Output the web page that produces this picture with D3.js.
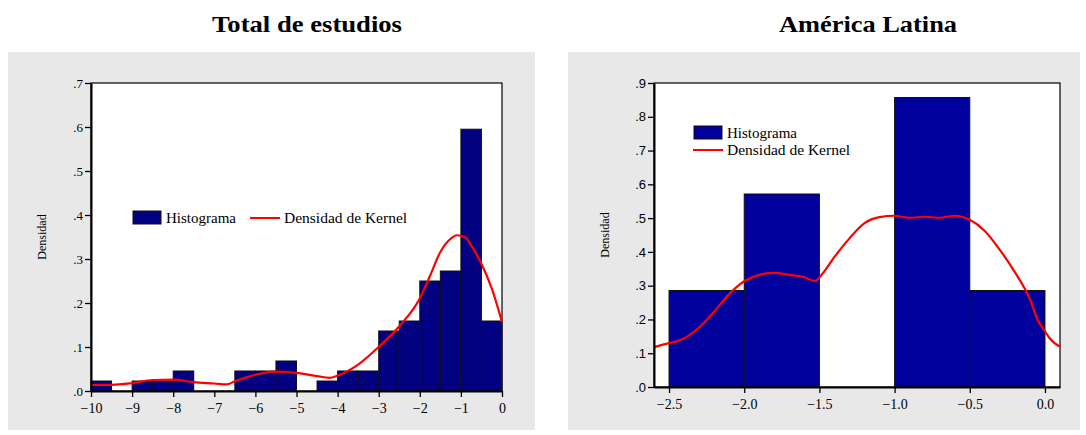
<!DOCTYPE html>
<html>
<head>
<meta charset="utf-8">
<script src="https://cdn.jsdelivr.net/npm/d3@7"></script>
<style>
  body { margin: 0; background: #fff; }
  svg text { font-family: "Liberation Serif", "Times New Roman", serif; fill: #000; }
</style>
</head>
<body>
<div id="chart"></div>
<script>
// Total de estudios: bin starts (width .5) and density
var totalBins = [-10, -9.5, -9, -8.5, -8, -7.5, -7, -6.5, -6, -5.5, -5, -4.5, -4, -3.5, -3, -2.5, -2, -1.5, -1, -0.5];
var totalHist = [0.0227, 0, 0.0227, 0.0227, 0.0455, 0, 0, 0.0455, 0.0455, 0.0682, 0, 0.0227, 0.0455, 0.0455, 0.1364, 0.1591, 0.25, 0.2727, 0.595, 0.1591];
var totalKx = [-10, -9.5, -9, -8.5, -8, -7.5, -7, -6.7, -6.5, -6, -5.5, -5, -4.5, -4.2, -4, -3.5, -3, -2.5, -2, -1.75, -1.5, -1.25, -1.1, -0.9, -0.75, -0.5, -0.25, 0];
var totalKy = [0.014, 0.014, 0.018, 0.025, 0.026, 0.020, 0.017, 0.015, 0.022, 0.037, 0.044, 0.041, 0.034, 0.030, 0.035, 0.060, 0.100, 0.147, 0.210, 0.262, 0.316, 0.346, 0.354, 0.350, 0.331, 0.289, 0.233, 0.157];
var totalXTicks = [-10, -9, -8, -7, -6, -5, -4, -3, -2, -1, 0];
var totalYTicks = [0, 0.1, 0.2, 0.3, 0.4, 0.5, 0.6, 0.7];

// America Latina
var latBins = [-2.5, -2, -1.5, -1, -0.5];
var latHist = [0.2857, 0.5714, 0, 0.8571, 0.2857];
var latKx = [-2.6, -2.5, -2.45, -2.4, -2.3, -2.2, -2.1, -2.0, -1.9, -1.8, -1.7, -1.6, -1.53, -1.48, -1.4, -1.3, -1.2, -1.1, -1.0, -0.9, -0.8, -0.7, -0.6, -0.5, -0.4, -0.3, -0.2, -0.1, -0.05, 0.0, 0.03, 0.1];
var latKy = [0.118, 0.130, 0.135, 0.144, 0.176, 0.223, 0.275, 0.313, 0.332, 0.338, 0.332, 0.325, 0.314, 0.335, 0.385, 0.440, 0.485, 0.503, 0.507, 0.501, 0.504, 0.501, 0.507, 0.495, 0.462, 0.406, 0.340, 0.260, 0.200, 0.165, 0.145, 0.119];
var latXTicks = [-2.5, -2.0, -1.5, -1.0, -0.5, 0.0];
var latYTicks = [0, 0.1, 0.2, 0.3, 0.4, 0.5, 0.6, 0.7, 0.8, 0.9];

var svg = d3.select('#chart').append('svg')
  .attr('width', 1086)
  .attr('height', 435);

function yFmt(d) { return d3.format('.1f')(d).replace(/^0/, ''); }

function panel(opt) {
  svg.append('rect')
    .attr('x', opt.box[0]).attr('y', opt.box[1])
    .attr('width', opt.box[2]).attr('height', opt.box[3])
    .attr('fill', '#e8e8e8');

  // titles look stretched in the original, so force their width
  svg.append('text')
    .attr('x', opt.titleX).attr('y', 32)
    .attr('text-anchor', 'middle')
    .attr('textLength', opt.titleW).attr('lengthAdjust', 'spacingAndGlyphs')
    .style('font-size', '23px').style('font-weight', 'bold')
    .text(opt.title);

  var x = d3.scaleLinear().domain(opt.xdom).range([opt.left, opt.right]);
  var y = d3.scaleLinear().domain(opt.ydom).range([opt.bottom, opt.top]);

  svg.append('rect')
    .attr('x', opt.left).attr('y', opt.top)
    .attr('width', opt.right - opt.left).attr('height', opt.bottom - opt.top)
    .attr('fill', '#fff').attr('stroke', '#000').attr('stroke-width', 1.2);

  var g = svg.append('g');
  var bars = opt.bins.map((b, i) => ({x0: b, x1: b + 0.5, v: opt.hist[i]})).filter(d => d.v > 0);
  g.selectAll('rect.bar')
    .data(bars)
    .enter().append('rect')
      .attr('class', 'bar')
      .attr('x', d => x(d.x0))
      .attr('width', d => x(d.x1) - x(d.x0))
      .attr('y', d => y(d.v))
      .attr('height', d => y(0) - y(d.v))
      .attr('fill', opt.barColor)
      .attr('stroke', '#111').attr('stroke-width', 1);

  var pts = opt.kx.map((v, i) => [v, opt.ky[i]]);
  g.append('path')
    .attr('d', d3.line().x(d => x(d[0])).y(d => y(d[1])).curve(d3.curveMonotoneX)(pts))
    .attr('fill', 'none').attr('stroke', '#ff0000').attr('stroke-width', 2.2);

  // axes
  var ax = svg.append('g')
    .attr('transform', 'translate(0,' + opt.bottom + ')')
    .attr('font-family', 'Liberation Serif').attr('font-size', 14)
    .call(d3.axisBottom(x).tickValues(opt.xticks).tickSize(6).tickSizeOuter(0).tickFormat(opt.xfmt));
  ax.attr('font-family', 'Liberation Serif').attr('font-size', 14);
  ax.select('.domain').attr('stroke-width', 2);
  ax.selectAll('.tick line').attr('stroke-width', 1.3);
  ax.selectAll('text').attr('dy', '0.95em');

  var ay = svg.append('g')
    .attr('transform', 'translate(' + opt.left + ',0)')
    .call(d3.axisLeft(y).tickValues(opt.yticks).tickSize(6).tickSizeOuter(0).tickFormat(yFmt));
  ay.attr('font-family', opt.yFont).attr('font-size', 13);
  ay.selectAll('text').style('font-family', opt.yFont);
  ay.select('.domain').attr('stroke-width', 2);
  ay.selectAll('.tick line').attr('stroke-width', 1.3);
  ay.selectAll('text').attr('x', -8);

  svg.append('text')
    .attr('transform', 'translate(' + opt.ylabX + ',' + ((opt.top + opt.bottom) / 2) + ') rotate(-90)')
    .attr('text-anchor', 'middle')
    .style('font-size', '12px')
    .text('Densidad');

  // legend
  var L = opt.legend;
  svg.append('rect')
    .attr('x', L.sx).attr('y', L.sy).attr('width', 28).attr('height', 13)
    .attr('fill', opt.barColor).attr('stroke', '#111').attr('stroke-width', 1);
  svg.append('text').attr('x', L.sx + 33).attr('y', L.sy + 12)
    .style('font-size', '15px').text('Histograma');
  svg.append('line')
    .attr('x1', L.lx).attr('x2', L.lx + 30).attr('y1', L.ly).attr('y2', L.ly)
    .attr('stroke', '#ff0000').attr('stroke-width', 2);
  svg.append('text').attr('x', L.lx + 34).attr('y', L.ly + 5)
    .style('font-size', '15.5px').text('Densidad de Kernel');
}

panel({
  title: 'Total de estudios', titleX: 307, titleW: 190,
  box: [8, 52, 527, 378],
  left: 91, right: 502, top: 83, bottom: 391,
  xdom: [-10, 0], ydom: [0, 0.7],
  bins: totalBins, hist: totalHist, kx: totalKx, ky: totalKy,
  xticks: totalXTicks, yticks: totalYTicks, xfmt: d3.format('d'),
  yFont: 'Liberation Serif',
  barColor: '#000080', ylabX: 46,
  legend: {sx: 133, sy: 211, lx: 250, ly: 218}
});

panel({
  title: 'América Latina', titleX: 868, titleW: 178,
  box: [568, 52, 512, 378],
  left: 654, right: 1060, top: 83, bottom: 387,
  xdom: [-2.6, 0.1], ydom: [0, 0.9],
  bins: latBins, hist: latHist, kx: latKx, ky: latKy,
  xticks: latXTicks, yticks: latYTicks, xfmt: d3.format('.1f'),
  yFont: 'Liberation Sans',
  barColor: '#00009c', ylabX: 609,
  legend: {sx: 694, sy: 126, lx: 693, ly: 150}
});
</script>
</body>
</html>
